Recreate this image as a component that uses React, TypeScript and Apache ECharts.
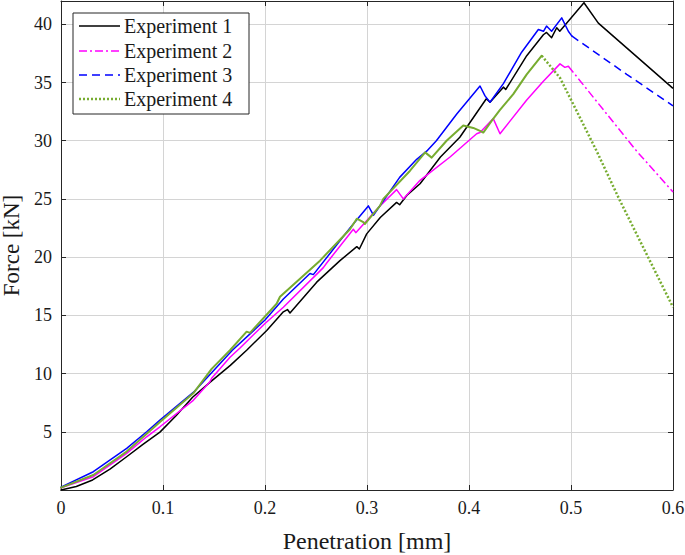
import React, { useEffect, useRef } from "react";
import * as echarts from "echarts";

const seriesNames = ["Experiment 1", "Experiment 2", "Experiment 3", "Experiment 4"];
const seriesColors = ["#000000", "#ff00ff", "#0000ff", "#77ac30"];

// Experiment 1 (solid throughout)
const exp1Loading: number[][] = [
  [0, 0], [0.015, 0.3], [0.031, 0.86], [0.048, 1.8], [0.065, 2.9], [0.08, 3.9], [0.097, 4.97],
  [0.113, 6.4], [0.129, 7.97], [0.148, 9.4], [0.166, 10.7], [0.182, 12.0], [0.2017, 13.7],
  [0.218, 15.3], [0.222, 15.5], [0.2245, 15.2], [0.2507, 17.85], [0.2735, 19.7], [0.29, 20.9],
  [0.2925, 20.7], [0.2997, 22.0], [0.313, 23.4], [0.329, 24.7], [0.332, 24.5], [0.339, 25.3],
  [0.352, 26.3], [0.372, 28.6], [0.391, 30.3], [0.417, 33.6], [0.4206, 33.3], [0.4337, 34.6],
  [0.436, 34.4], [0.4566, 37.3], [0.4729, 39.1], [0.476, 39.3], [0.481, 38.85], [0.486, 39.7],
  [0.489, 39.4], [0.5127, 41.85],
];
const exp1Unloading: number[][] = [[0.5127, 41.85], [0.5268, 40.1], [0.6, 34.5]];

// Experiment 2
const exp2Loading: number[][] = [
  [0, 0.2], [0.0317, 1.14], [0.0644, 3.14], [0.084, 4.57], [0.097, 5.43], [0.1297, 7.7],
  [0.146, 9.3], [0.1477, 9.6], [0.1657, 11.4], [0.1755, 12.2], [0.2, 14.3], [0.218, 15.7],
  [0.2572, 19.1], [0.2605, 19.5], [0.2866, 22.4], [0.289, 22.1], [0.3127, 24.4], [0.329, 25.8],
  [0.3356, 25.0], [0.352, 26.6], [0.3814, 28.6], [0.4075, 30.6], [0.4108, 30.7], [0.4238, 31.9],
  [0.4304, 30.6], [0.4566, 33.5], [0.4729, 35.1], [0.4892, 36.6], [0.494, 36.3], [0.4974, 36.4],
];
const exp2Unloading: number[][] = [[0.4974, 36.4], [0.5644, 29.1], [0.6, 25.6]];

// Experiment 3
const exp3Loading: number[][] = [
  [0, 0.25], [0.0317, 1.57], [0.0644, 3.57], [0.084, 5.0], [0.097, 6.0], [0.13, 8.4],
  [0.168, 12.0], [0.2, 14.6], [0.218, 16.4], [0.2441, 18.6], [0.2474, 18.5], [0.2833, 22.5],
  [0.3013, 24.4], [0.3063, 23.6], [0.332, 26.85], [0.3487, 28.4], [0.3585, 29.1], [0.368, 30.0],
  [0.388, 32.3], [0.4108, 34.7], [0.4157, 33.85], [0.4206, 33.3], [0.4337, 34.9], [0.4516, 37.6],
  [0.468, 39.55], [0.473, 39.4], [0.476, 39.85], [0.481, 39.4], [0.4909, 40.55], [0.4974, 39.4],
  [0.5007, 39.0],
];
const exp3Unloading: number[][] = [[0.5007, 39.0], [0.5546, 35.7], [0.6, 33.0]];

// Experiment 4
const exp4Loading: number[][] = [
  [0, 0.2], [0.0317, 1.29], [0.0644, 3.3], [0.097, 5.85], [0.1297, 8.3], [0.1477, 10.4],
  [0.1657, 12.0], [0.182, 13.6], [0.1853, 13.5], [0.2114, 16.0], [0.2147, 16.6], [0.2539, 19.7],
  [0.2833, 22.4], [0.29, 23.3], [0.2964, 23.0], [0.298, 22.85], [0.3127, 24.4], [0.316, 25.0],
  [0.342, 27.4], [0.357, 29.0], [0.3634, 28.55], [0.378, 30.0], [0.3944, 31.3], [0.4042, 31.1],
  [0.4108, 30.85], [0.414, 30.7], [0.4222, 31.7], [0.43, 32.6], [0.4434, 34.0], [0.4566, 35.7],
  [0.4713, 37.3],
];
const exp4Unloading: number[][] = [
  [0.4713, 37.3], [0.4892, 35.4], [0.5007, 33.4], [0.5252, 29.1], [0.548, 24.85], [0.6, 15.7],
];

const xTickLabels = [0, 0.1, 0.2, 0.3, 0.4, 0.5, 0.6];
const yTickLabels = [5, 10, 15, 20, 25, 30, 35, 40];

const FONT = "Liberation Serif";
const AXIS_COLOR = "#262626";
const GRID_COLOR = "#d4d4d4";

export default function App() {
  const ref = useRef<HTMLDivElement>(null);

  useEffect(() => {
    document.body.style.margin = "0";
    const chart = echarts.init(ref.current!, null, { renderer: "svg" });

    const unloadTypes: any[] = ["solid", [8, 3, 2, 3], [8, 5], [2, 2]];
    const widths = [1.5, 1.5, 1.5, 2];
    const loadings = [exp1Loading, exp2Loading, exp3Loading, exp4Loading];
    const unloadings = [exp1Unloading, exp2Unloading, exp3Unloading, exp4Unloading];

    const series: any[] = [];
    for (let i = 0; i < 4; i++) {
      series.push({
        type: "line",
        name: seriesNames[i],
        data: loadings[i],
        showSymbol: false,
        symbol: "none",
        silent: true,
        z: 2 + i,
        lineStyle: { color: seriesColors[i], width: widths[i], type: "solid", cap: "round", join: "round" },
      });
      series.push({
        type: "line",
        name: seriesNames[i] + " unloading",
        data: unloadings[i],
        showSymbol: false,
        symbol: "none",
        silent: true,
        z: 2 + i,
        lineStyle: { color: seriesColors[i], width: i === 3 ? 2.5 : widths[i], type: unloadTypes[i] },
      });
    }

    const legendX = 73, legendY = 13, legendW = 176, legendH = 101;
    const rowYs = [26, 51, 75, 99];
    const legendDash: any[] = [null, [8, 3, 2, 3], [8, 5], [2, 2]];
    const legendElems: any[] = [
      {
        type: "rect",
        shape: { x: legendX, y: legendY, width: legendW, height: legendH },
        style: { fill: "#ffffff", stroke: AXIS_COLOR, lineWidth: 1 },
        z: 100,
      },
    ];
    for (let i = 0; i < 4; i++) {
      legendElems.push({
        type: "line",
        shape: { x1: 79, y1: rowYs[i], x2: 120, y2: rowYs[i] },
        style: {
          stroke: seriesColors[i],
          lineWidth: i === 3 ? 2.5 : 1.5,
          lineDash: legendDash[i] || undefined,
        },
        z: 101,
      });
      legendElems.push({
        type: "text",
        x: 124,
        y: rowYs[i],
        style: {
          text: seriesNames[i],
          fontFamily: FONT,
          fontSize: 20,
          fill: "#1a1a1a",
          verticalAlign: "middle",
        },
        z: 101,
      });
    }

    const commonSplit = { show: true, lineStyle: { color: GRID_COLOR, width: 1 } };

    chart.setOption({
      animation: false,
      backgroundColor: "#ffffff",
      grid: { left: 61, right: 12, top: 1, bottom: 65, containLabel: false, outerBoundsMode: "none" },
      xAxis: [
        {
          type: "value",
          min: 0,
          max: 0.6,
          interval: 0.1,
          position: "bottom",
          name: "Penetration [mm]",
          nameLocation: "middle",
          nameGap: 39,
          nameTextStyle: { fontFamily: FONT, fontSize: 24, color: "#1a1a1a" },
          axisLine: { show: true, onZero: false, lineStyle: { color: AXIS_COLOR, width: 1 } },
          axisTick: { show: true, inside: true, length: 5, lineStyle: { color: AXIS_COLOR } },
          axisLabel: {
            show: true,
            margin: 9,
            fontFamily: FONT,
            fontSize: 18,
            color: "#1a1a1a",
            formatter: (v: number) => {
              const r = Math.round(v * 10) / 10;
              return xTickLabels.some((t) => Math.abs(t - r) < 1e-9) ? String(r) : "";
            },
          },
          splitLine: commonSplit,
        },
        {
          type: "value",
          min: 0,
          max: 0.6,
          interval: 0.1,
          position: "top",
          axisLine: { show: true, onZero: false, lineStyle: { color: AXIS_COLOR, width: 1 } },
          axisTick: { show: true, inside: true, length: 5, lineStyle: { color: AXIS_COLOR } },
          axisLabel: { show: false },
          splitLine: { show: false },
        },
      ],
      yAxis: [
        {
          type: "value",
          min: 0,
          max: 42,
          interval: 5,
          position: "left",
          name: "Force [kN]",
          nameLocation: "middle",
          nameGap: 35,
          nameRotate: 90,
          nameTextStyle: { fontFamily: FONT, fontSize: 23, color: "#1a1a1a" },
          axisLine: { show: true, onZero: false, lineStyle: { color: AXIS_COLOR, width: 1 } },
          axisTick: { show: true, inside: true, length: 5, lineStyle: { color: AXIS_COLOR } },
          axisLabel: {
            show: true,
            margin: 9,
            fontFamily: FONT,
            fontSize: 18,
            color: "#1a1a1a",
            formatter: (v: number) => (yTickLabels.indexOf(Math.round(v)) >= 0 && Math.abs(v - Math.round(v)) < 1e-9 ? String(Math.round(v)) : ""),
          },
          splitLine: commonSplit,
        },
        {
          type: "value",
          min: 0,
          max: 42,
          interval: 5,
          position: "right",
          axisLine: { show: true, onZero: false, lineStyle: { color: AXIS_COLOR, width: 1 } },
          axisTick: { show: true, inside: true, length: 5, lineStyle: { color: AXIS_COLOR } },
          axisLabel: { show: false },
          splitLine: { show: false },
        },
      ],
      series,
      graphic: legendElems,
    });

    return () => chart.dispose();
  }, []);

  return <div ref={ref} style={{ width: 685, height: 555, position: "absolute", left: 0, top: 0 }} />;
}
